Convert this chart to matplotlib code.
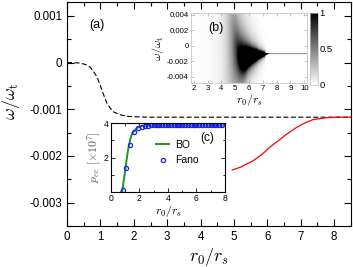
import numpy as np
import matplotlib
matplotlib.use("Agg")
import matplotlib.pyplot as plt
from matplotlib.ticker import MultipleLocator

plt.rcParams['font.family'] = ['Liberation Sans', 'DejaVu Sans']
plt.rcParams['mathtext.fontset'] = 'cm'
plt.rcParams['axes.unicode_minus'] = False

# ---- main panel (a) data ----
bo_x = [0.0, 0.2, 0.4, 0.55, 0.7, 0.8, 0.9, 1.0, 1.05, 1.1, 1.2, 1.3, 1.4, 1.6, 1.8, 2.0, 2.5, 8.5]
bo_w = [0.0, 0.0, -0.00001, -0.00004, -0.0001, -0.0002, -0.00031, -0.0005, -0.0006, -0.0007,
        -0.00088, -0.00098, -0.00106, -0.00112, -0.00115, -0.00116, -0.00117, -0.00117]
fano_x = [4.95, 5.2, 5.58, 5.85, 6.08, 6.35, 6.58, 6.85, 7.07, 7.37, 7.78, 8.1, 8.5]
fano_w = [-0.00230, -0.00224, -0.00210, -0.00196, -0.00181, -0.00166, -0.00153, -0.00140,
          -0.00131, -0.00122, -0.00118, -0.00117, -0.00117]
main_yticks = [-0.003, -0.002, -0.001, 0.0, 0.001]
main_yticklabels = ['-0.003', '-0.002', '-0.001', '0', '0.001']

# ---- inset (b): spectral map parameters ----
map_r = [1.8, 3.0, 4.0, 4.5, 5.0, 5.3, 5.6, 6.0, 6.5, 7.0, 7.3, 10.2]
map_gamma = [0.4, 0.2, 0.04, 0.012, 0.0045, 0.0026, 0.0016, 0.0006, 0.0002, 0.00004, 0.00001, 0.00001]
map_center = [0.002, 0.002, 0.002, 0.001, -0.0005, -0.0014, -0.0017, -0.0014, -0.00122,
              -0.0011, -0.00105, -0.00105]
map_weight_r = [1.8, 7.15, 7.45, 10.2]
map_weight = [1.0, 1.0, 0.0062, 0.0062]
map_strength = 0.0031
b_yticks = [-0.004, -0.002, 0.0, 0.002, 0.004]
b_yticklabels = ['-0.004', '-0.002', '0', '0.002', '0.004']

# ---- inset (c) data ----
pee_bo_x = [0.7, 0.8, 0.9, 1.0, 1.1, 1.2, 1.3, 1.4, 1.5, 1.6, 1.8, 2.0, 2.2, 2.5, 3.0, 8.0]
pee_bo_y = [0.0, 0.1, 0.7, 1.25, 1.9, 2.45, 2.85, 3.2, 3.4, 3.52, 3.7, 3.8, 3.84, 3.86, 3.86, 3.86]
pee_fano_x = [0.82, 1.07, 1.31, 1.58, 1.92, 2.2, 2.4, 2.6, 2.8, 3.0, 3.2, 3.4, 3.6, 3.8, 4.0,
              4.2, 4.4, 4.6, 4.8, 5.0, 5.2, 5.4, 5.6, 5.8, 6.0, 6.2, 6.4, 6.6, 6.8, 7.0,
              7.2, 7.4, 7.6, 7.8]
pee_fano_y = [0.1, 1.37, 2.74, 3.47, 3.72, 3.8, 3.84, 3.85, 3.86, 3.86, 3.86, 3.86, 3.86, 3.86, 3.86,
              3.86, 3.86, 3.86, 3.86, 3.86, 3.86, 3.86, 3.86, 3.86, 3.86, 3.86, 3.86, 3.86, 3.86, 3.86,
              3.86, 3.86, 3.86, 3.86]

fig = plt.figure(figsize=(3.53, 2.67), dpi=100)

# ================= main axes =================
ax = fig.add_axes([0.19, 0.154, 0.804, 0.8385])
ax.plot(bo_x, bo_w, color='black', lw=0.8, linestyle=(0, (4.5, 2.2)))
ax.plot(fano_x, fano_w, color='red', lw=0.9)
ax.set_xlim(0, 8.5)
ax.set_ylim(-0.0035, 0.0013)
ax.set_xticks(range(0, 9))
ax.xaxis.set_minor_locator(MultipleLocator(0.5))
ax.set_yticks(main_yticks)
ax.set_yticklabels(main_yticklabels)
ax.yaxis.set_minor_locator(MultipleLocator(0.0005))
ax.tick_params(which='both', direction='in', top=True, right=True, labelsize=8.3, width=0.8)
ax.tick_params(which='major', length=5)
ax.tick_params(which='minor', length=2.7)
for s in ax.spines.values():
    s.set_linewidth(0.8)
ax.set_xlabel(r'$r_0/r_s$', fontsize=13)
ax.xaxis.set_label_coords(0.5, -0.09)
ax.set_ylabel(r'$\omega/\omega_{\rm t}$', fontsize=13)
ax.yaxis.set_label_coords(-0.158, 0.558)
ax.text(0.106, 0.897, '(a)', transform=ax.transAxes, fontsize=9, ha='center', va='center')

# ================= inset (b) =================
axb = fig.add_axes([0.541, 0.689, 0.3286, 0.262])
xlo, xhi, ylo, yhi = 1.8, 10.2, -0.0048, 0.0042
ncol, nrow = 200, 70
rc = np.linspace(xlo, xhi, ncol)
edges = np.linspace(ylo, yhi, nrow + 1)
gam = np.exp(np.interp(rc, map_r, np.log(map_gamma)))
cen = np.interp(rc, map_r, map_center)
wgt = np.exp(np.interp(rc, map_weight_r, np.log(map_weight)))
dw = edges[1] - edges[0]
at = np.arctan((edges[:, None] - cen[None, :]) / gam[None, :])
img = wgt[None, :] * map_strength * (at[1:] - at[:-1]) / dw
img = np.clip(img, 0, 1)
im = axb.imshow(img, origin='lower', extent=[xlo, xhi, ylo, yhi], aspect='auto',
                cmap='gray_r', vmin=0, vmax=1, interpolation='nearest')
axb.set_xlim(xlo, xhi)
axb.set_ylim(ylo, yhi)
axb.set_xticks(range(2, 11))
axb.set_yticks(b_yticks)
axb.set_yticklabels(b_yticklabels)
axb.tick_params(direction='in', top=True, right=True, labelsize=5.6, length=2, width=0.4,
                color='#999999', pad=1.5)
for s in axb.spines.values():
    s.set_linewidth(0.5)
    s.set_color('#bbbbbb')
axb.set_xlabel(r'$r_0/r_s$', fontsize=8.5, labelpad=0)
axb.set_ylabel(r'$\omega/\omega_{\rm t}$', fontsize=8.5, labelpad=1)
axb.text(0.215, 0.786, '(b)', transform=axb.transAxes, fontsize=9, ha='center', va='center')

cax = fig.add_axes([0.878, 0.682, 0.0227, 0.27])
cb = fig.colorbar(im, cax=cax)
cb.set_ticks([0, 0.5, 1])
cb.set_ticklabels(['0', '0.5', '1'])
cax.tick_params(length=0, labelsize=6.8, pad=1)
cb.outline.set_linewidth(0.5)
cb.outline.set_edgecolor('#bbbbbb')

# ================= inset (c) =================
axc = fig.add_axes([0.3144, 0.281, 0.323, 0.258])
axc.plot(pee_bo_x, pee_bo_y, color='#1a9a1a', lw=1.4, label='BO')
axc.plot(pee_fano_x, pee_fano_y, linestyle='none', marker='o', ms=3, mfc='none',
         mec='#1a1aff', mew=0.9, label='Fano')
axc.set_xlim(0, 8)
axc.set_ylim(0, 4)
axc.set_xticks([0, 2, 4, 6, 8])
axc.set_yticks([2, 4])
axc.xaxis.set_minor_locator(MultipleLocator(1))
axc.yaxis.set_minor_locator(MultipleLocator(1))
axc.tick_params(which='both', direction='in', top=True, right=True, labelsize=6.2, width=0.6, pad=1.5)
axc.tick_params(which='major', length=3)
axc.tick_params(which='minor', length=1.8)
for s in axc.spines.values():
    s.set_linewidth(0.8)
axc.set_xlabel(r'$r_0/r_s$', fontsize=8.5, labelpad=0)
axc.set_ylabel(r'$p_{ee}\ [\times 10^7]$', fontsize=8.5, labelpad=1, color='#555555')
axc.text(0.84, 0.78, '(c)', transform=axc.transAxes, fontsize=8.5, ha='center', va='center')
axc.legend(loc='upper left', bbox_to_anchor=(0.33, 0.86), frameon=False, fontsize=7.5,
           handlelength=1.3, handletextpad=0.5, borderpad=0.2, labelspacing=0.5)

fig.savefig('out.png', dpi=100)
